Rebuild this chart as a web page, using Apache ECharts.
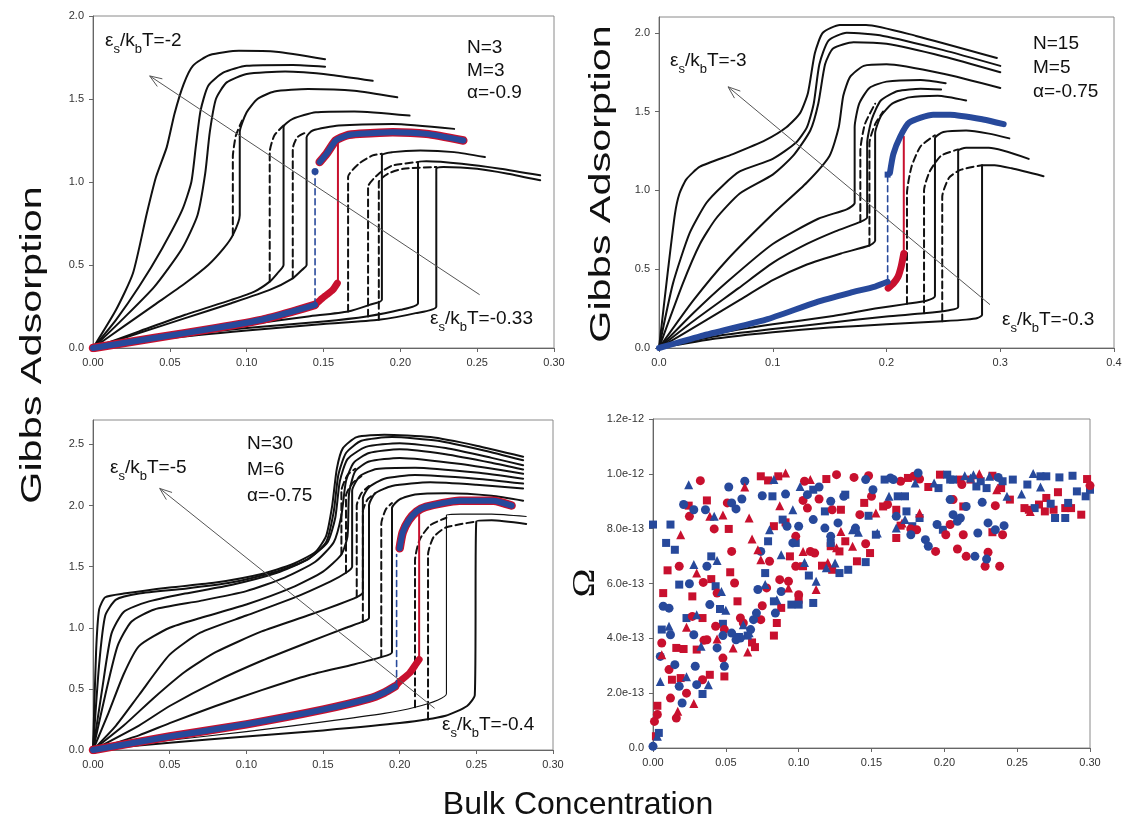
<!DOCTYPE html>
<html><head><meta charset="utf-8">
<script src="https://cdn.jsdelivr.net/npm/echarts@6/dist/echarts.min.js"></script>
<style>html,body{margin:0;padding:0;background:#fff}#c{width:1128px;height:832px}</style>
</head><body><div id="c"></div>
<script>
// ---------------- DATA ----------------
// Top-left panel (N=3, M=3, alpha=-0.9)
const tlSolid = [
 [[0,0],[0.015,0.23],[0.026,0.45],[0.035,0.81],[0.041,1.03],[0.048,1.21],[0.053,1.41],[0.059,1.59],[0.065,1.70],[0.076,1.765],[0.095,1.79],[0.119,1.785],[0.151,1.74]],
 [[0,0],[0.015,0.17],[0.03,0.37],[0.045,0.6],[0.058,0.83],[0.064,1.0],[0.067,1.22],[0.07,1.43],[0.075,1.58],[0.085,1.66],[0.1,1.7],[0.13,1.705],[0.151,1.695]],
 [[0,0],[0.02,0.18],[0.04,0.37],[0.058,0.6],[0.068,0.8],[0.073,1.05],[0.076,1.3],[0.08,1.5],[0.087,1.6],[0.1,1.65],[0.125,1.665],[0.155,1.645],[0.182,1.61]],
 [[0,0],[0.02,0.13],[0.04,0.26],[0.06,0.39],[0.075,0.5],[0.085,0.6],[0.091,0.68],[0.0955,0.8],[0.0955,1.3],[0.1,1.42],[0.107,1.5],[0.118,1.545],[0.14,1.56],[0.17,1.55],[0.198,1.51]],
 [[0,0],[0.03,0.1],[0.06,0.2],[0.09,0.29],[0.105,0.34],[0.115,0.4],[0.12,0.45],[0.124,0.5],[0.124,1.33],[0.13,1.38],[0.145,1.42],[0.17,1.425],[0.206,1.40]],
 [[0,0],[0.03,0.09],[0.06,0.18],[0.09,0.27],[0.115,0.35],[0.13,0.42],[0.136,0.47],[0.139,0.5],[0.139,1.27],[0.143,1.31],[0.16,1.34],[0.195,1.35],[0.235,1.32]],
 [[0,0],[0.05,0.08],[0.1,0.14],[0.14,0.19],[0.166,0.22],[0.18,0.26],[0.188,0.29],[0.188,1.16],[0.195,1.18],[0.213,1.19],[0.235,1.18],[0.255,1.15]],
 [[0,0],[0.05,0.07],[0.1,0.12],[0.15,0.16],[0.178,0.19],[0.2,0.23],[0.2115,0.27],[0.2115,1.12],[0.217,1.125],[0.24,1.11],[0.265,1.08],[0.291,1.04]],
 [[0,0],[0.05,0.06],[0.1,0.105],[0.15,0.145],[0.186,0.17],[0.21,0.21],[0.2234,0.25],[0.2234,1.08],[0.228,1.09],[0.25,1.08],[0.27,1.05],[0.291,1.01]]
];
const tlDashed = [
 [[0.091,0.68],[0.091,1.15],[0.093,1.28],[0.097,1.37]],
 [[0.115,0.4],[0.115,1.18],[0.118,1.28],[0.124,1.34]],
 [[0.130,0.42],[0.130,1.2],[0.133,1.27],[0.139,1.3]],
 [[0.166,0.22],[0.166,1.03],[0.173,1.11],[0.182,1.16],[0.188,1.17]],
 [[0.179,0.19],[0.179,0.97],[0.186,1.05],[0.195,1.1],[0.2115,1.12]],
 [[0.186,0.17],[0.186,1.0],[0.192,1.05],[0.202,1.08],[0.2234,1.09]]
];
const tlBlueLow = [[0,0],[0.04,0.06],[0.08,0.12],[0.11,0.17],[0.13,0.22],[0.1445,0.26]];
const tlBlueJump = [[0.1445,0.26],[0.1445,1.063]];
const tlBlueUp = [[0.1475,1.12],[0.152,1.17],[0.158,1.25],[0.165,1.28],[0.1735,1.29],[0.195,1.30],[0.217,1.29],[0.241,1.25]];
const tlRedLow = [[0.1445,0.26],[0.148,0.29],[0.152,0.32],[0.156,0.35],[0.159,0.39]];
const tlRedJump = [[0.1594,0.39],[0.1594,1.23]];
const tlArrow = [[0.2516,0.321],[0.0369,1.639]];

// Top-right panel (N=15, M=5, alpha=-0.75)
const trSolid = [
 [[0,0],[0.008,0.5],[0.014,0.85],[0.018,0.98],[0.024,1.07],[0.036,1.15],[0.065,1.23],[0.094,1.32],[0.112,1.40],[0.124,1.49],[0.131,1.62],[0.137,1.87],[0.144,2.0],[0.159,2.05],[0.182,2.05],[0.226,1.98],[0.297,1.84]],
 [[0,0],[0.0123,0.41],[0.027,0.73],[0.0416,0.92],[0.056,1.03],[0.071,1.12],[0.1,1.2],[0.12,1.3],[0.13,1.4],[0.136,1.55],[0.141,1.8],[0.149,1.95],[0.165,2.0],[0.197,1.98],[0.25,1.89],[0.3,1.79]],
 [[0,0],[0.021,0.41],[0.036,0.66],[0.05,0.82],[0.071,0.98],[0.1,1.1],[0.118,1.22],[0.133,1.38],[0.14,1.55],[0.146,1.8],[0.153,1.9],[0.171,1.94],[0.2,1.93],[0.25,1.85],[0.3,1.75]],
 [[0,0],[0.03,0.3],[0.06,0.56],[0.1,0.85],[0.13,1.05],[0.15,1.22],[0.158,1.4],[0.162,1.6],[0.168,1.72],[0.18,1.79],[0.2,1.80],[0.25,1.74],[0.3,1.65]],
 [[0,0],[0.03,0.22],[0.06,0.42],[0.1,0.66],[0.14,0.82],[0.165,0.88],[0.172,0.92],[0.172,1.4],[0.176,1.55],[0.185,1.65],[0.2,1.69],[0.23,1.70],[0.252,1.68]],
 [[0,0],[0.03,0.17],[0.07,0.38],[0.1,0.54],[0.13,0.66],[0.155,0.74],[0.177,0.8],[0.183,0.83],[0.183,1.3],[0.187,1.45],[0.195,1.57],[0.21,1.63],[0.23,1.645],[0.248,1.64]],
 [[0,0],[0.04,0.17],[0.07,0.3],[0.1,0.43],[0.13,0.53],[0.16,0.6],[0.185,0.65],[0.19,0.68],[0.19,1.36],[0.195,1.47],[0.205,1.55],[0.22,1.59],[0.245,1.6],[0.27,1.57]],
 [[0,0],[0.05,0.09],[0.1,0.15],[0.15,0.2],[0.19,0.25],[0.218,0.28],[0.235,0.3],[0.2426,0.33],[0.2426,1.33],[0.25,1.37],[0.27,1.38],[0.29,1.36],[0.308,1.33]],
 [[0,0],[0.05,0.075],[0.1,0.12],[0.15,0.16],[0.2,0.2],[0.233,0.22],[0.255,0.24],[0.263,0.26],[0.263,1.25],[0.27,1.27],[0.29,1.27],[0.325,1.2]],
 [[0,0],[0.05,0.06],[0.1,0.1],[0.15,0.13],[0.2,0.15],[0.249,0.17],[0.27,0.18],[0.28,0.19],[0.284,0.21],[0.284,1.16],[0.295,1.16],[0.31,1.14],[0.338,1.09]]
];
const trDashed = [
 [[0.177,0.8],[0.177,1.25],[0.181,1.42],[0.19,1.55]],
 [[0.185,0.65],[0.185,1.3],[0.19,1.42],[0.197,1.5]],
 [[0.218,0.28],[0.218,0.98],[0.222,1.15],[0.23,1.28],[0.2426,1.35]],
 [[0.233,0.22],[0.233,1.0],[0.238,1.12],[0.248,1.22],[0.263,1.26]],
 [[0.249,0.17],[0.249,0.96],[0.255,1.08],[0.265,1.13],[0.284,1.16]]
];
const trBlueLow = [[0,0],[0.036,0.074],[0.094,0.18],[0.138,0.29],[0.168,0.35],[0.19,0.39],[0.201,0.42]];
const trBlueJump = [[0.201,0.42],[0.201,1.1]];
const trBlueUp = [[0.203,1.11],[0.206,1.23],[0.212,1.34],[0.22,1.43],[0.241,1.48],[0.256,1.48],[0.285,1.45],[0.303,1.42]];
const trRedLow = [[0.2015,0.38],[0.206,0.41],[0.21,0.45],[0.213,0.52],[0.2152,0.6]];
const trRedJump = [[0.2152,0.6],[0.2152,1.34]];
const trArrow = [[0.291,0.275],[0.0607,1.657]];

// Bottom-left panel (N=30, M=6, alpha=-0.75)
const blSolid = [
 [[0,0],[0.002,0.8],[0.004,1.15],[0.008,1.25],[0.02,1.28],[0.05,1.33],[0.08,1.37],[0.11,1.44],[0.13,1.52],[0.145,1.62],[0.152,1.75],[0.156,2.0],[0.159,2.3],[0.163,2.47],[0.172,2.56],[0.19,2.58],[0.22,2.56],[0.25,2.49],[0.2805,2.40]],
 [[0,0],[0.004,0.7],[0.008,1.1],[0.015,1.23],[0.03,1.28],[0.06,1.32],[0.09,1.37],[0.12,1.46],[0.14,1.56],[0.152,1.7],[0.157,1.95],[0.16,2.25],[0.165,2.43],[0.175,2.53],[0.195,2.56],[0.225,2.53],[0.255,2.45],[0.2805,2.37]],
 [[0,0],[0.006,0.5],[0.012,0.95],[0.02,1.13],[0.035,1.21],[0.06,1.28],[0.09,1.35],[0.12,1.45],[0.14,1.56],[0.153,1.7],[0.158,1.9],[0.161,2.2],[0.166,2.38],[0.178,2.48],[0.2,2.51],[0.23,2.47],[0.26,2.39],[0.2805,2.33]],
 [[0,0],[0.008,0.45],[0.016,0.85],[0.025,1.05],[0.04,1.15],[0.07,1.22],[0.1,1.3],[0.125,1.41],[0.145,1.54],[0.157,1.7],[0.162,1.92],[0.165,2.2],[0.17,2.35],[0.18,2.43],[0.2,2.46],[0.23,2.42],[0.26,2.35],[0.2805,2.295]],
 [[0,0],[0.01,0.3],[0.02,0.62],[0.03,0.85],[0.05,1.0],[0.07,1.08],[0.1,1.19],[0.13,1.33],[0.15,1.46],[0.162,1.6],[0.166,1.75],[0.167,2.1],[0.171,2.28],[0.18,2.36],[0.2,2.39],[0.24,2.34],[0.2805,2.26]],
 [[0,0],[0.015,0.2],[0.03,0.45],[0.05,0.78],[0.07,0.96],[0.1,1.1],[0.13,1.24],[0.155,1.38],[0.165,1.45],[0.169,1.5],[0.169,2.12],[0.174,2.24],[0.185,2.3],[0.21,2.31],[0.25,2.27],[0.2805,2.22]],
 [[0,0],[0.02,0.2],[0.04,0.43],[0.06,0.64],[0.08,0.8],[0.11,0.97],[0.14,1.1],[0.16,1.19],[0.172,1.25],[0.176,1.29],[0.176,2.06],[0.18,2.15],[0.19,2.22],[0.21,2.25],[0.25,2.22],[0.2805,2.18]],
 [[0,0],[0.03,0.2],[0.05,0.36],[0.08,0.56],[0.11,0.73],[0.14,0.88],[0.165,1.0],[0.176,1.05],[0.18,1.08],[0.18,2.0],[0.184,2.1],[0.195,2.16],[0.22,2.19],[0.25,2.17],[0.2805,2.14]],
 [[0,0],[0.03,0.12],[0.05,0.22],[0.08,0.36],[0.11,0.49],[0.14,0.61],[0.17,0.7],[0.188,0.76],[0.195,0.8],[0.195,1.98],[0.2,2.05],[0.21,2.09],[0.23,2.1],[0.26,2.08],[0.2805,2.04]],
 [[0,0],[0.05,0.06],[0.1,0.11],[0.15,0.16],[0.2,0.22],[0.23,0.28],[0.244,0.36],[0.249,0.45],[0.25,1.87],[0.26,1.88],[0.2825,1.85]]
];
const blThin = [[0,0],[0.05,0.08],[0.1,0.15],[0.15,0.23],[0.19,0.3],[0.21,0.35],[0.225,0.41],[0.2305,0.46],[0.2305,1.92],[0.24,1.93],[0.26,1.93],[0.2825,1.91]];
const blDashed = [
 [[0.162,1.6],[0.162,2.12],[0.166,2.25],[0.171,2.3]],
 [[0.165,1.45],[0.165,2.08],[0.169,2.18],[0.175,2.24]],
 [[0.172,1.25],[0.172,2.0],[0.175,2.1],[0.18,2.16]],
 [[0.176,1.05],[0.176,1.95],[0.179,2.05],[0.184,2.1]],
 [[0.188,0.76],[0.188,1.85],[0.191,1.97],[0.195,2.02]],
 [[0.21,0.35],[0.21,1.55],[0.213,1.72],[0.22,1.84],[0.2305,1.9]],
 [[0.2185,0.25],[0.2185,1.6],[0.222,1.74],[0.23,1.82],[0.25,1.87]]
];
const blBlueLow = [[0,0],[0.05,0.11],[0.1,0.21],[0.15,0.33],[0.18,0.42],[0.19,0.47],[0.197,0.52]];
const blBlueJump = [[0.198,0.52],[0.198,1.6]];
const blBlueUp = [[0.2,1.65],[0.202,1.78],[0.206,1.88],[0.211,1.95],[0.217,1.99],[0.239,2.04],[0.261,2.04],[0.273,2.0]];
const blRedLow = [[0.197,0.52],[0.2,0.56],[0.2065,0.63],[0.211,0.71],[0.2127,0.74]];
const blRedJump = [[0.2127,0.74],[0.2127,1.935]];
const blArrow = [[0.2228,0.341],[0.0435,2.14]];

// Bottom-right panel: Omega (units of 1e-13) vs bulk concentration
const blueSquare = [[0,8.15],[0.012,8.15],[0.009,7.48],[0.015,7.23],[0.018,5.96],[0.006,4.32],[0.004,0.55],[0.023,4.74],[0.040,6.99],[0.043,5.9],[0.046,5.07],[0.048,4.53],[0.034,1.97],[0.077,6.38],[0.079,7.54],[0.082,9.18],[0.083,5.35],[0.089,8.33],[0.098,7.48],[0.095,5.23],[0.1,5.23],[0.11,9.42],[0.107,6.29],[0.11,5.29],[0.118,8.63],[0.122,7.48],[0.128,6.38],[0.132,9.24],[0.134,6.5],[0.146,6.78],[0.148,8.47],[0.153,7.78],[0.159,9.79],[0.168,9.18],[0.173,9.18],[0.174,8.63],[0.178,8.09],[0.183,8.39],[0.196,9.48],[0.199,7.96],[0.202,9.97],[0.206,9.79],[0.222,9.54],[0.225,9.73],[0.229,9.48],[0.247,9.79],[0.257,9.61],[0.262,8.75],[0.266,9.91],[0.27,9.91],[0.273,8.91],[0.276,8.39],[0.279,9.87],[0.283,8.39],[0.285,8.94],[0.288,9.93],[0.291,9.36],[0.297,9.18],[0.3,9.42],[0.204,9.79],[0.24,9.73],[0.065,4.1],[0.059,4.05]];
const blueCircle = [[0.007,5.17],[0.011,5.1],[0.012,4.13],[0.005,3.34],[0.015,3.04],[0.018,2.25],[0.02,1.64],[0,0.06],[0.021,8.88],[0.028,8.69],[0.036,8.69],[0.037,6.63],[0.025,5.99],[0.039,5.23],[0.028,4.13],[0.044,3.65],[0.029,2.98],[0.030,2.31],[0.049,2.98],[0.052,9.52],[0.054,8.94],[0.057,8.72],[0.061,9.08],[0.063,9.73],[0.054,4.19],[0.06,4.01],[0.067,4.32],[0.069,4.68],[0.071,4.92],[0.072,5.78],[0.075,9.2],[0.074,7.17],[0.084,4.92],[0.091,9.26],[0.088,5.71],[0.092,8.09],[0.096,7.48],[0.1,8.09],[0.106,9.24],[0.11,8.33],[0.114,9.52],[0.118,8.02],[0.122,7.72],[0.122,9.0],[0.127,8.21],[0.131,9.18],[0.139,8.02],[0.146,9.79],[0.151,9.42],[0.163,9.85],[0.165,9.79],[0.167,8.45],[0.177,7.78],[0.182,10.03],[0.187,7.6],[0.189,7.36],[0.195,8.15],[0.204,9.06],[0.206,8.51],[0.209,8.27],[0.211,8.39],[0.215,8.81],[0.221,6.99],[0.223,7.84],[0.226,8.96],[0.229,6.89],[0.23,8.21],[0.235,7.96],[0.237,9.87],[0.241,8.11],[0.048,4.1],[0.057,3.95]];
const blueTriangle = [[0.011,4.44],[0.005,2.43],[0.003,0.43],[0.0245,9.6],[0.023,2.6],[0.028,6.69],[0.044,6.84],[0.047,5.71],[0.050,5.02],[0.030,4.86],[0.033,3.71],[0.038,2.31],[0.042,8.45],[0.083,9.79],[0.08,7.96],[0.077,5.96],[0.085,5.41],[0.088,7.05],[0.096,8.69],[0.101,9.54],[0.104,6.77],[0.112,6.08],[0.119,6.57],[0.125,6.75],[0.137,7.96],[0.141,7.87],[0.154,7.84],[0.162,9.18],[0.167,8.02],[0.173,8.33],[0.18,9.67],[0.193,9.67],[0.214,9.93],[0.22,9.97],[0.218,9.85],[0.231,9.91],[0.243,9.18],[0.253,9.26],[0.261,10.01],[0.266,9.52],[0.066,4.2],[0.062,4.5]];
const redCircle = [[0.001,0.97],[0.003,1.22],[0.006,3.83],[0.011,2.86],[0.012,1.82],[0.016,1.09],[0.018,6.63],[0.023,2.0],[0.025,8.45],[0.0325,9.75],[0.042,7.99],[0.0345,6.04],[0.044,5.65],[0.027,4.8],[0.037,3.95],[0.035,3.93],[0.043,4.44],[0.049,4.32],[0.034,2.49],[0.048,3.28],[0.051,8.94],[0.054,7.17],[0.056,6.02],[0.06,4.74],[0.062,4.56],[0.074,4.68],[0.075,5.19],[0.08,6.81],[0.078,5.84],[0.087,6.14],[0.093,6.08],[0.098,7.72],[0.1,5.59],[0.098,6.63],[0.103,9.03],[0.104,9.73],[0.108,7.17],[0.111,7.11],[0.106,8.75],[0.114,9.08],[0.123,8.69],[0.126,9.97],[0.138,9.87],[0.142,8.51],[0.146,7.45],[0.148,9.93],[0.15,9.18],[0.161,8.88],[0.17,9.73],[0.177,7.99],[0.179,9.91],[0.183,9.81],[0.181,7.96],[0.194,7.17],[0.201,7.78],[0.204,8.15],[0.206,9.06],[0.209,7.26],[0.212,9.61],[0.213,7.78],[0.215,6.99],[0.228,6.63],[0.23,7.14],[0.235,8.84],[0.238,6.63],[0.24,7.78],[0.3,9.57]];
const redSquare = [[0.002,0.43],[0.003,1.54],[0.007,5.65],[0.010,6.48],[0.013,2.49],[0.016,3.65],[0.019,2.55],[0.0245,8.84],[0.021,3.61],[0.037,9.03],[0.052,7.99],[0.040,6.16],[0.027,5.53],[0.034,4.74],[0.030,3.59],[0.039,2.67],[0.049,2.61],[0.053,6.41],[0.058,5.35],[0.068,3.85],[0.07,3.68],[0.074,9.91],[0.079,9.76],[0.083,8.09],[0.083,4.1],[0.085,4.56],[0.086,9.91],[0.091,8.23],[0.088,5.11],[0.094,6.99],[0.1,5.41],[0.103,6.63],[0.116,6.65],[0.119,9.81],[0.122,7.36],[0.123,6.5],[0.128,7.17],[0.132,7.54],[0.129,8.69],[0.14,6.81],[0.145,8.94],[0.149,7.11],[0.158,8.81],[0.167,8.69],[0.167,7.66],[0.17,8.11],[0.175,9.85],[0.189,9.52],[0.197,9.97],[0.211,9.79],[0.213,8.81],[0.218,9.79],[0.233,7.87],[0.233,9.93],[0.239,9.48],[0.245,9.06],[0.255,8.75],[0.258,8.69],[0.265,8.88],[0.269,8.63],[0.27,9.12],[0.275,8.69],[0.278,9.33],[0.283,8.75],[0.287,8.75],[0.294,8.51],[0.298,9.81]];
const redTriangle = [[0.006,3.4],[0.017,1.34],[0.019,7.78],[0.023,4.4],[0.030,6.38],[0.028,1.62],[0.044,3.98],[0.039,8.45],[0.055,3.65],[0.063,9.52],[0.066,8.39],[0.068,7.62],[0.072,7.23],[0.074,6.87],[0.087,8.84],[0.091,10.03],[0.093,5.84],[0.103,7.17],[0.108,9.79],[0.112,5.78],[0.12,6.77],[0.126,7.3],[0.129,7.9],[0.137,7.36],[0.153,8.57],[0.171,8.21],[0.183,8.57],[0.224,10.0],[0.236,9.42],[0.259,8.63],[0.065,3.5],[0.048,8.5]];

// ---------------- CHART ----------------
const FONT = '"Liberation Sans", Arial, sans-serif';
const BLACK = '#111';
const BLUE = '#27499b';
const RED = '#c8102e';
const chart = echarts.init(document.getElementById('c'), null, {renderer: 'canvas'});

function ln(data, gi, color, width, type, z, smooth) {
  return {type: 'line', xAxisIndex: gi, yAxisIndex: gi, data: data, showSymbol: false, symbol: 'none',
    smooth: smooth === undefined ? 0.2 : smooth, animation: false, silent: true, z: z || 2,
    lineStyle: {color: color, width: width, type: type || 'solid', cap: 'round', join: 'round'}};
}
function grid(left, top, width, height) {
  return {left: left, top: top, width: width, height: height, show: true, borderColor: '#8a8a8a', borderWidth: 1, backgroundColor: '#fff'};
}
function xAx(gi, max, interval, dec) {
  return {type: 'value', gridIndex: gi, min: 0, max: max, interval: interval,
    axisLine: {show: true, lineStyle: {color: '#666'}}, axisTick: {show: true, length: 4, lineStyle: {color: '#666'}},
    splitLine: {show: false},
    axisLabel: {margin: 9, color: '#333', fontSize: 11, fontFamily: FONT, formatter: v => v.toFixed(dec)}};
}
function yAx(gi, max, interval, fmt) {
  return {type: 'value', gridIndex: gi, min: 0, max: max, interval: interval,
    axisLine: {show: true, lineStyle: {color: '#666'}}, axisTick: {show: true, length: 4, lineStyle: {color: '#666'}},
    splitLine: {show: false},
    axisLabel: {margin: 9, color: '#333', fontSize: 11, fontFamily: FONT, showMaxLabel: max % interval === 0 || max === 12, formatter: fmt}};
}
const f1 = v => v.toFixed(1);
const fOmega = v => v === 0 ? '0.0' : (v >= 10 ? (v / 10).toFixed(1) + 'e-12' : v.toFixed(1) + 'e-13');

const series = [];
function panel(gi, solid, dashed, blueLow, blueJump, blueUp, redLow, redJump, halo) {
  solid.forEach(c => series.push(ln(c, gi, BLACK, 2)));
  dashed.forEach(c => series.push(ln(c, gi, BLACK, 2, [7, 4])));
  if (halo) {
    series.push(ln(blueLow, gi, RED, 8.5, 'solid', 3));
    series.push(ln(blueUp, gi, RED, 8.5, 'solid', 3));
  }
  series.push(ln(redLow, gi, RED, 7, 'solid', 4));
  series.push(ln(redJump, gi, RED, 2, 'solid', 4, false));
  series.push(ln(blueJump, gi, BLUE, 1.6, [6, 4], 4, false));
  series.push(ln(blueLow, gi, BLUE, 6, 'solid', 5));
  series.push(ln(blueUp, gi, BLUE, 6, 'solid', 5));
}
panel(0, tlSolid, tlDashed, tlBlueLow, tlBlueJump, tlBlueUp, tlRedLow, tlRedJump, true);
series.push({type: 'scatter', xAxisIndex: 0, yAxisIndex: 0, data: [tlBlueJump[1]], symbol: 'circle', symbolSize: 7, itemStyle: {color: BLUE, opacity: 1}, z: 6, silent: true, animation: false});
panel(1, trSolid, trDashed, trBlueLow, trBlueJump, trBlueUp, trRedLow, trRedJump, false);
series.push({type: 'scatter', xAxisIndex: 1, yAxisIndex: 1, data: [trBlueJump[1]], symbol: 'rect', symbolSize: 6, itemStyle: {color: BLUE, opacity: 1}, z: 6, silent: true, animation: false});
panel(2, blSolid, blDashed, blBlueLow, blBlueJump, blBlueUp, blRedLow, blRedJump, true);
series.push(ln(blThin, 2, BLACK, 1.1));

function sc(data, sym, size, color) {
  return {type: 'scatter', xAxisIndex: 3, yAxisIndex: 3, data: data, symbol: sym, symbolSize: size,
    itemStyle: {color: color, opacity: 1}, silent: true, animation: false};
}
series.push(sc(redSquare, 'rect', 8, RED), sc(blueSquare, 'rect', 8, BLUE),
  sc(redCircle, 'circle', 9, RED), sc(blueCircle, 'circle', 9, BLUE),
  sc(redTriangle, 'triangle', 9, RED), sc(blueTriangle, 'triangle', 9, BLUE));

chart.setOption({
  animation: false,
  backgroundColor: '#fff',
  grid: [grid(93, 16, 461, 332), grid(659, 17, 455, 331), grid(93, 420, 460, 330), grid(653, 419, 437, 329)],
  xAxis: [xAx(0, 0.3, 0.05, 2), xAx(1, 0.4, 0.1, 1), xAx(2, 0.3, 0.05, 2), xAx(3, 0.3, 0.05, 2)],
  yAxis: [yAx(0, 2.0, 0.5, f1), yAx(1, 2.1, 0.5, f1), yAx(2, 2.7, 0.5, f1), yAx(3, 12, 2, fOmega)],
  series: series
});

// ---------------- ANNOTATIONS ----------------
function arrow(pts, gi) {
  const p1 = chart.convertToPixel({gridIndex: gi}, pts[0]);
  const p2 = chart.convertToPixel({gridIndex: gi}, pts[1]);
  const ang = Math.atan2(p2[1] - p1[1], p2[0] - p1[0]);
  const L = 13, a = 0.36;
  const h1 = [p2[0] - L * Math.cos(ang - a), p2[1] - L * Math.sin(ang - a)];
  const h2 = [p2[0] - L * Math.cos(ang + a), p2[1] - L * Math.sin(ang + a)];
  return [
    {type: 'line', silent: true, z: 10, shape: {x1: p1[0], y1: p1[1], x2: p2[0], y2: p2[1]}, style: {stroke: '#555', lineWidth: 1}},
    {type: 'polyline', silent: true, z: 10, shape: {points: [h1, p2, h2]}, style: {stroke: '#555', lineWidth: 1, fill: null}}
  ];
}
const rich = {
  m: {fontSize: 19, lineHeight: 30, fontFamily: FONT, fill: '#111'},
  s: {fontSize: 13, lineHeight: 30, fontFamily: FONT, fill: '#111', verticalAlign: 'bottom'}
};
function eps(x, y, val) {
  return {type: 'text', x: x, y: y, z: 12, silent: true,
    style: {text: '{m|ε}{s|s}{m|/k}{s|b}{m|T=' + val + '}', rich: rich, align: 'left', verticalAlign: 'top'}};
}
function params(x, y, txt, lh) {
  return {type: 'text', x: x, y: y, z: 12, silent: true,
    style: {text: txt, fontSize: 19, lineHeight: lh, fontFamily: FONT, fill: '#111', align: 'left', verticalAlign: 'top'}};
}
const graphics = [].concat(
  arrow(tlArrow, 0), arrow(trArrow, 1), arrow(blArrow, 2),
  [
    eps(105, 26, '-2'), eps(430, 304, '-0.33'),
    eps(670, 46, '-3'), eps(1002, 305, '-0.3'),
    eps(110, 453, '-5'), eps(442, 710, '-0.4'),
    params(467, 37, 'N=3\nM=3\nα=-0.9', 22.5),
    params(1033, 32, 'N=15\nM=5\nα=-0.75', 24),
    params(247, 431, 'N=30\nM=6\nα=-0.75', 26),
    {type: 'text', x: 33, y: 345, rotation: Math.PI / 2, scaleX: 1.38, silent: true,
      style: {text: 'Gibbs Adsorption', fontSize: 30, fontFamily: FONT, fill: '#111', align: 'center', verticalAlign: 'middle'}},
    {type: 'text', x: 602, y: 184, rotation: Math.PI / 2, scaleX: 1.38, silent: true,
      style: {text: 'Gibbs Adsorption', fontSize: 30, fontFamily: FONT, fill: '#111', align: 'center', verticalAlign: 'middle'}},
    {type: 'text', x: 578, y: 805, silent: true,
      style: {text: 'Bulk Concentration', fontSize: 32, fontFamily: FONT, fill: '#111', align: 'center', verticalAlign: 'middle'}},
    {type: 'text', x: 586, y: 583, rotation: Math.PI / 2, scaleX: 1.22, silent: true,
      style: {text: 'Ω', fontSize: 32, fontFamily: '"Liberation Serif", "DejaVu Serif", serif', fill: '#111', align: 'center', verticalAlign: 'middle'}}
  ]
);
chart.setOption({graphic: {elements: graphics}});
</script>
</body></html>
